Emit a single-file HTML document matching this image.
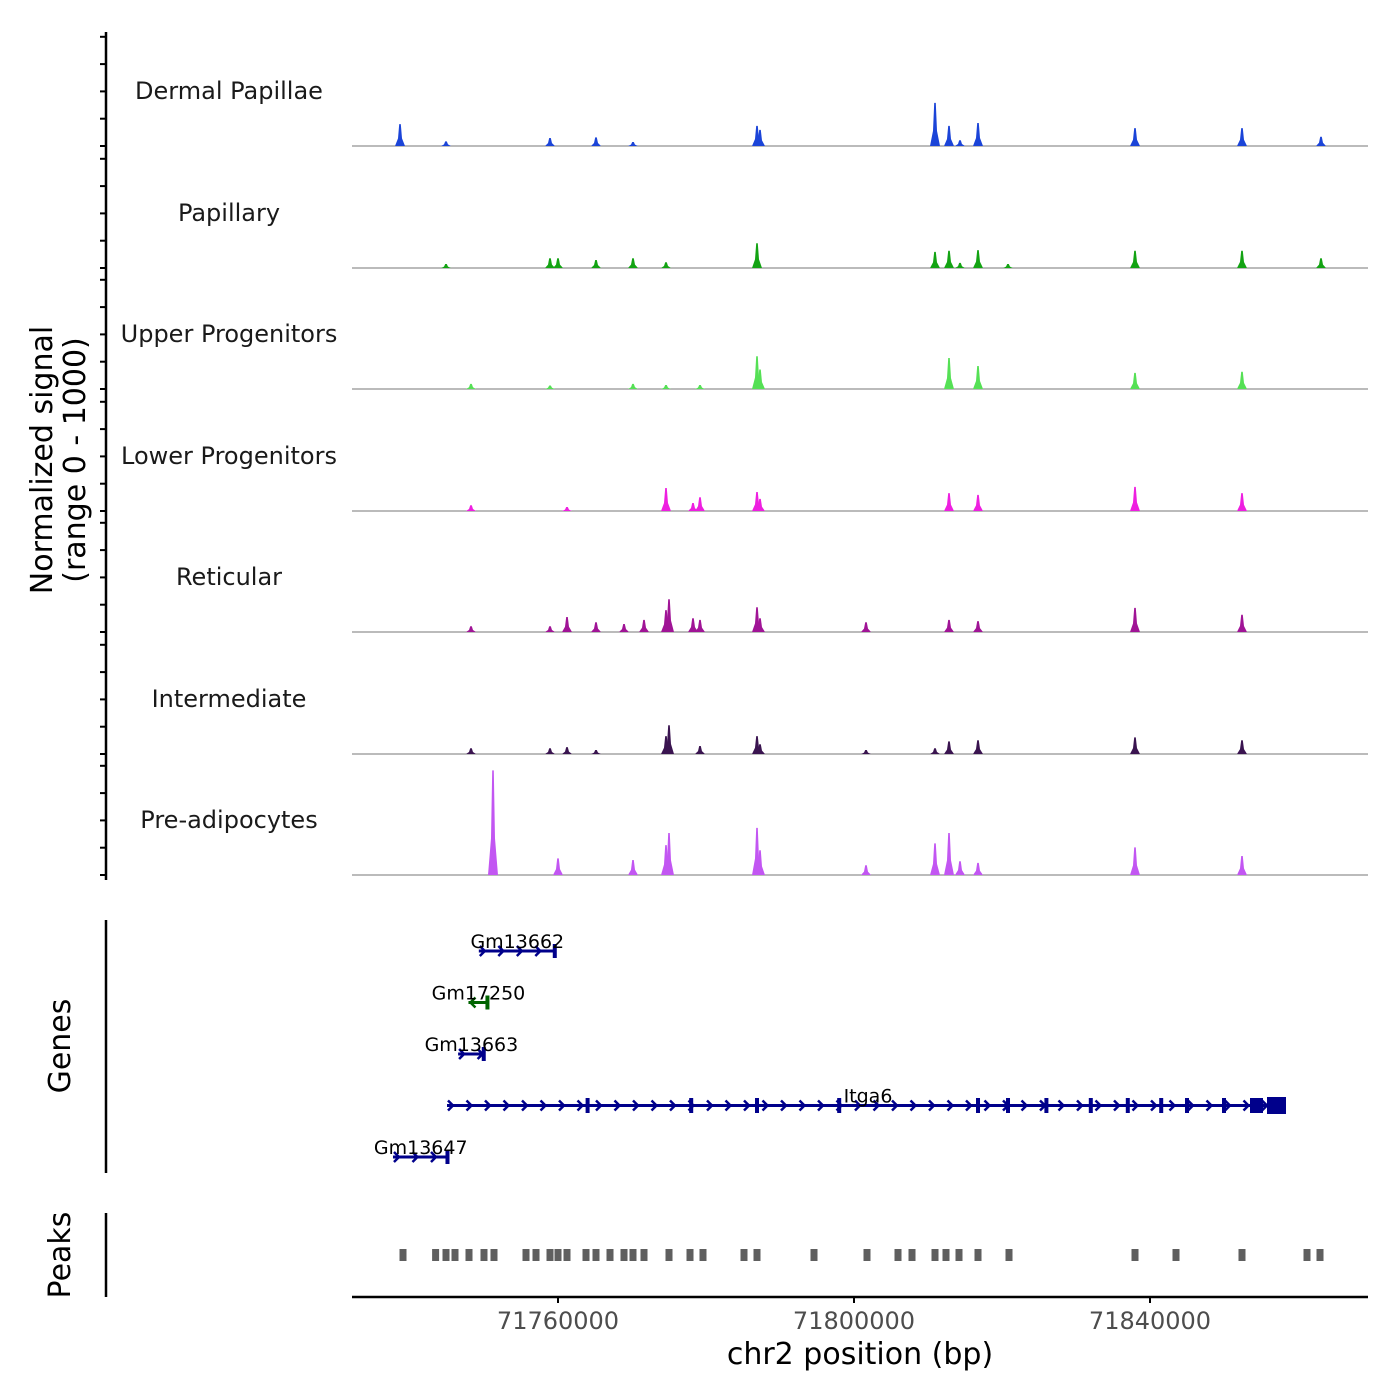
<!DOCTYPE html>
<html><head><meta charset="utf-8"><style>
body{margin:0;background:#fff}
svg{display:block;font-family:"DejaVu Sans","Liberation Sans",sans-serif}
</style></head><body>
<svg id="c" width="1400" height="1400" viewBox="0 0 1400 1400"></svg>
<script>
// ---- data ----
const trackNames=["Dermal Papillae","Papillary","Upper Progenitors","Lower Progenitors","Reticular","Intermediate","Pre-adipocytes"];
const trackColors=["#1b44d8","#13a313","#55e055","#ee1fe0","#a01496","#3a1450","#c256f2"];
const pDP=[[71738650,190],[71744865,40],[71758919,70],[71765135,75],[71770135,35],[71786892,175],[71787297,140],[71810946,375],[71812838,175],[71814324,50],[71816757,200],[71837973,155],[71852432,155],[71863108,80]];
const pPap=[[71744865,35],[71758919,85],[71760000,85],[71765135,70],[71770135,85],[71774594,50],[71786892,215],[71810946,140],[71812838,150],[71814324,45],[71816757,155],[71820811,35],[71837973,150],[71852432,150],[71863108,85]];
const pUp=[[71748243,45],[71758919,30],[71770135,45],[71774594,35],[71779189,35],[71786892,285],[71787297,170],[71812838,270],[71816757,200],[71837973,140],[71852432,150]];
const pLow=[[71748243,50],[71761216,35],[71774594,200],[71778243,70],[71779189,120],[71786892,165],[71787297,105],[71812838,155],[71816757,140],[71837973,210],[71852432,155]];
const pRet=[[71748243,50],[71758919,50],[71761216,130],[71765135,85],[71768919,70],[71771622,105],[71774594,190],[71775000,285],[71778243,120],[71779189,105],[71786892,215],[71787297,120],[71801621,85],[71812838,105],[71816757,95],[71837973,210],[71852432,150]];
const pInt=[[71748243,50],[71758919,50],[71761216,60],[71765135,35],[71774594,155],[71775000,250],[71779189,70],[71786892,155],[71787297,85],[71801621,35],[71810946,50],[71812838,110],[71816757,120],[71837973,145],[71852432,120]];
const pPre=[[71751216,910],[71760000,145],[71770135,130],[71774594,260],[71775000,365],[71786892,410],[71787297,215],[71801621,85],[71810946,275],[71812838,365],[71814324,120],[71816757,105],[71837973,240],[71852432,165]];
const trackPeaks=[pDP,pPap,pUp,pLow,pRet,pInt,pPre];
const xTicks=[71760000,71800000,71840000];
const genes=[
 {name:"Gm13662",start:71749300,end:71759700,row:0,color:"#00008b",dir:1},
 {name:"Gm17250",start:71747900,end:71750600,row:1,color:"#006400",dir:-1},
 {name:"Gm13663",start:71746500,end:71750100,row:2,color:"#00008b",dir:1},
 {name:"Itga6",start:71745000,end:71857500,row:3,color:"#00008b",dir:1},
 {name:"Gm13647",start:71737700,end:71745200,row:4,color:"#00008b",dir:1}];
const peakRegions=[71739055,71743460,71744865,71746081,71747973,71749999,71751351,71755676,71757027,71758919,71760000,71761216,71763784,71765135,71767027,71768919,71770135,71771622,71775000,71777838,71779594,71785135,71786892,71794595,71801757,71805946,71807838,71810946,71812432,71814189,71816757,71820946,71837973,71843514,71852432,71861216,71862973];
// ---- scales ----
const X0=352,X1=1368,BP0=71732162,PXPERBP=0.0074;
const xs=bp=>X0+(bp-BP0)*PXPERBP;
const baselines=[146,268,389,511,632,754,875];
const ys=(i,v)=>baselines[i]-v/1000*115;
const svg=document.getElementById('c');
const NS="http://www.w3.org/2000/svg";
function mk(t,a,txt){const e=document.createElementNS(NS,t);for(const k in a)e.setAttribute(k,a[k]);if(txt!==undefined)e.textContent=txt;svg.appendChild(e);return e;}
// left axis
let ax=mk('line',{x1:106,y1:32,x2:106,y2:880,stroke:'#000','stroke-width':2.5});

for(let i=0;i<7;i++){for(let k=0;k<5;k++){const y=baselines[i]-k*27.3;if(y<32)continue;
 const t=mk('line',{x1:100,y1:y,x2:106,y2:y,stroke:'#000','stroke-width':2});
 }}
let yt=mk('text',{x:0,y:0,'font-size':30,'text-anchor':'middle',transform:'translate(52,460) rotate(-90)'},'Normalized signal');

let yt2=mk('text',{x:0,y:0,'font-size':30,'text-anchor':'middle',transform:'translate(85,460) rotate(-90)'},'(range 0 - 1000)');

// tracks
for(let i=0;i<7;i++){
 const lb=mk('text',{x:229,y:baselines[i]-47,'font-size':24,'text-anchor':'middle',fill:'#1a1a1a'},trackNames[i]);
 
 const bl=mk('line',{x1:X0,y1:baselines[i],x2:X1,y2:baselines[i],stroke:'#777','stroke-width':1});
 
 trackPeaks[i].forEach(p=>{
  const x=xs(p[0]),y=ys(i,p[1]),b=baselines[i],ym=ys(i,p[1]*0.35);
  const path=mk('path',{d:`M${x-5},${b} L${x-2},${ym} L${x-0.8},${y} L${x+0.8},${y} L${x+2},${ym} L${x+5},${b} Z`,fill:trackColors[i]});
  
 });
}
// genes
let ga=mk('line',{x1:106,y1:920,x2:106,y2:1173,stroke:'#000','stroke-width':2.5});

let gt=mk('text',{x:0,y:0,'font-size':30,'text-anchor':'middle',transform:'translate(70,1046) rotate(-90)'},'Genes');

genes.forEach(g=>{
 const y=951+g.row*51.5,x1=xs(g.start),x2=xs(g.end);
 const l=mk('line',{x1:x1,y1:y,x2:x2,y2:y,stroke:g.color,'stroke-width':3});
 
 for(let x=x1+4;x<x2;x+=18.5){
  const a=mk('path',{d:g.dir>0?`M${x-3},${y-5} L${x+2},${y} L${x-3},${y+5}`:`M${x+3},${y-5} L${x-2},${y} L${x+3},${y+5}`,stroke:g.color,'stroke-width':2.5,fill:'none'});
  }
 const e=mk('rect',{x:x2-3,y:y-7,width:4,height:14,fill:g.color});
 
 const t=mk('text',{x:g.name==='Itga6'?868:(x1+x2)/2,y:y-3,'font-size':19,'text-anchor':'middle',fill:'#000'},g.name);
 
});
[71764000,71778000,71786892,71798000,71816757,71820811,71826000,71832000,71837000,71841514,71845000,71850000,71855000].forEach(bp=>{
 const r=mk('rect',{x:xs(bp)-2,y:1098,width:4,height:15,fill:'#00008b'});
 });
let big=mk('rect',{x:1267,y:1097,width:19,height:17,fill:'#00008b'});
let big2=mk('rect',{x:1250,y:1098,width:10,height:15,fill:'#00008b'});
// peaks
let pa=mk('line',{x1:106,y1:1213,x2:106,y2:1297,stroke:'#000','stroke-width':2.5});

let pt=mk('text',{x:0,y:0,'font-size':30,'text-anchor':'middle',transform:'translate(70,1255) rotate(-90)'},'Peaks');

peakRegions.forEach(bp=>{const r=mk('rect',{x:xs(bp)-3.5,y:1249,width:7,height:12,fill:'#5f5f5f'});
 });
// x axis
let xa=mk('line',{x1:X0,y1:1297,x2:X1,y2:1297,stroke:'#000','stroke-width':2.5});

xTicks.forEach(v=>{const x=xs(v);
 const t=mk('line',{x1:x,y1:1297,x2:x,y2:1303,stroke:'#000','stroke-width':2});
 const l=mk('text',{x:x,y:1329,'font-size':24,'text-anchor':'middle',fill:'#4d4d4d'},String(v));});
let xt=mk('text',{x:860,y:1364,'font-size':30,'text-anchor':'middle'},'chr2 position (bp)');

</script>
</body></html>
